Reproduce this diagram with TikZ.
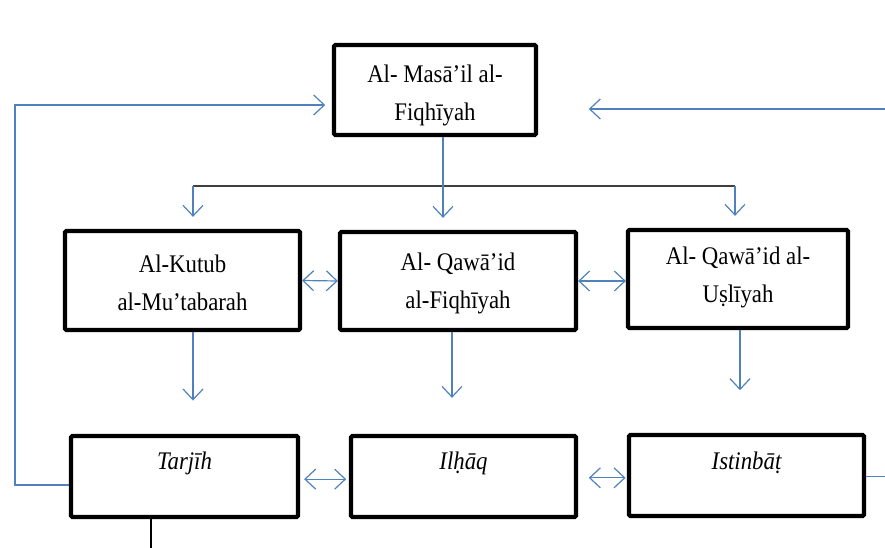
\documentclass[tikz,border=0pt]{standalone}
\usepackage{fontspec}
\setmainfont{Liberation Serif}[FakeStretch=0.9]
\usetikzlibrary{arrows.meta,calc}
\definecolor{linkblue}{RGB}{79,129,189}
\definecolor{bargray}{RGB}{64,64,64}
\begin{document}
\begin{tikzpicture}[x=0.75pt,y=-0.75pt,
  box/.style={draw=black,line width=3.2pt,rounded corners=1pt,fill=white,
    inner sep=0pt},
  txt/.style={align=center,inner sep=0pt,font=\fontsize{19}{28.5}\selectfont},
  lbl/.style={font=\fontsize{19}{28}\selectfont\itshape,inner sep=0pt},
  tip/.tip={Straight Barb[length=8pt,width=15pt,line width=0.9pt]},
  arr/.style={draw=linkblue,line width=0.9pt,-tip},
  dbl/.style={draw=linkblue,line width=0.9pt,tip-tip},
  bar/.style={draw=bargray,line width=1.4pt}]
\useasboundingbox (0,0) rectangle (885,548);
\clip (0,0) rectangle (885,548);

% boxes
\node[box,minimum width=151.5pt,minimum height=67.5pt] (masail) at (435,90) {};
\node[box,minimum width=176.25pt,minimum height=74.25pt] (kutub) at (182.5,280.5) {};
\node[box,minimum width=177pt,minimum height=73.5pt] (qawaid) at (458,281) {};
\node[box,minimum width=165pt,minimum height=73.5pt] (usul) at (738,279) {};
\node[box,minimum width=170.25pt,minimum height=60.75pt] (tarjih) at (184.5,476.5) {};
\node[box,minimum width=168.75pt,minimum height=60.75pt] (ilhaq) at (463.5,476.5) {};
\node[box,minimum width=176.25pt,minimum height=60.75pt] (istinbat) at (746.5,475.5) {};

% box texts
\node[txt] (masailT) at (435,95) {Al- Masā’il al-\\Fiqhīyah};
\node[txt] (kutubT) at (182.5,283) {Al-Kutub\\al-Mu’tabarah};
\node[txt] (qawaidT) at (458,283) {Al- Qawā’id\\al-Fiqhīyah};
\node[txt] (usulT) at (738,277) {Al- Qawā’id al-\\Uṣlīyah};
\node[lbl] (tarjihT) at (184.5,463) {Tarjīh};
\node[lbl] (ilhaqT) at (463.5,463) {Ilḥāq};
\node[lbl] (istinbatT) at (746.5,463) {Istinbāṭ};

% helper coordinates
\coordinate (midx) at (443,0);
\coordinate (barL) at (193,186);
\coordinate (barR) at (735,186);
\coordinate (col1) at (193,0);
\coordinate (col2) at (452,0);
\coordinate (col3) at (740,0);
\coordinate (loopL) at (15,105);
\coordinate (loopR) at (895,109);
\coordinate (tailx) at (151,0);
\coordinate (tail) at (151,560);

% branching from the top box
\draw[bar] (barL) -- (barR);
\draw[arr] (masail.south -| midx) -- ([yshift=9pt]qawaid.north -| midx);
\draw[arr] (barL) -- ([yshift=9pt]kutub.north -| barL);
\draw[arr] (barR) -- ([yshift=9pt]usul.north -| barR);

% middle row links
\draw[dbl] (kutub.east) -- (qawaid.west);
\draw[dbl] (qawaid.east) -- (qawaid.east -| usul.west);

% down to the bottom row
\draw[arr] (kutub.south -| col1) -- ([yshift=25pt]tarjih.north -| col1);
\draw[arr] (qawaid.south -| col2) -- ([yshift=27pt]ilhaq.north -| col2);
\draw[arr] (usul.south -| col3) -- ([yshift=32pt]istinbat.north -| col3);

% bottom row links
\draw[dbl,shorten <=3pt,shorten >=2pt] ([yshift=-2pt]tarjih.east) -- ([yshift=-2pt]ilhaq.west);
\draw[dbl,shorten <=8pt,shorten >=1pt] ([yshift=-1pt]ilhaq.east) -- ([yshift=-1pt]ilhaq.east -| istinbat.west);

% feedback loops to the top box
\draw[arr,shorten >=5pt] ([yshift=-6.4pt]tarjih.west) -| (loopL) -- (loopL -| masail.west);
\draw[arr,shorten >=38pt] ([yshift=-1pt]istinbat.east) -| (loopR) -- (loopR -| masail.east);

% line leaving the bottom
\draw[black,line width=1.5pt] (tarjih.south -| tailx) -- (tail);
\end{tikzpicture}
\end{document}
